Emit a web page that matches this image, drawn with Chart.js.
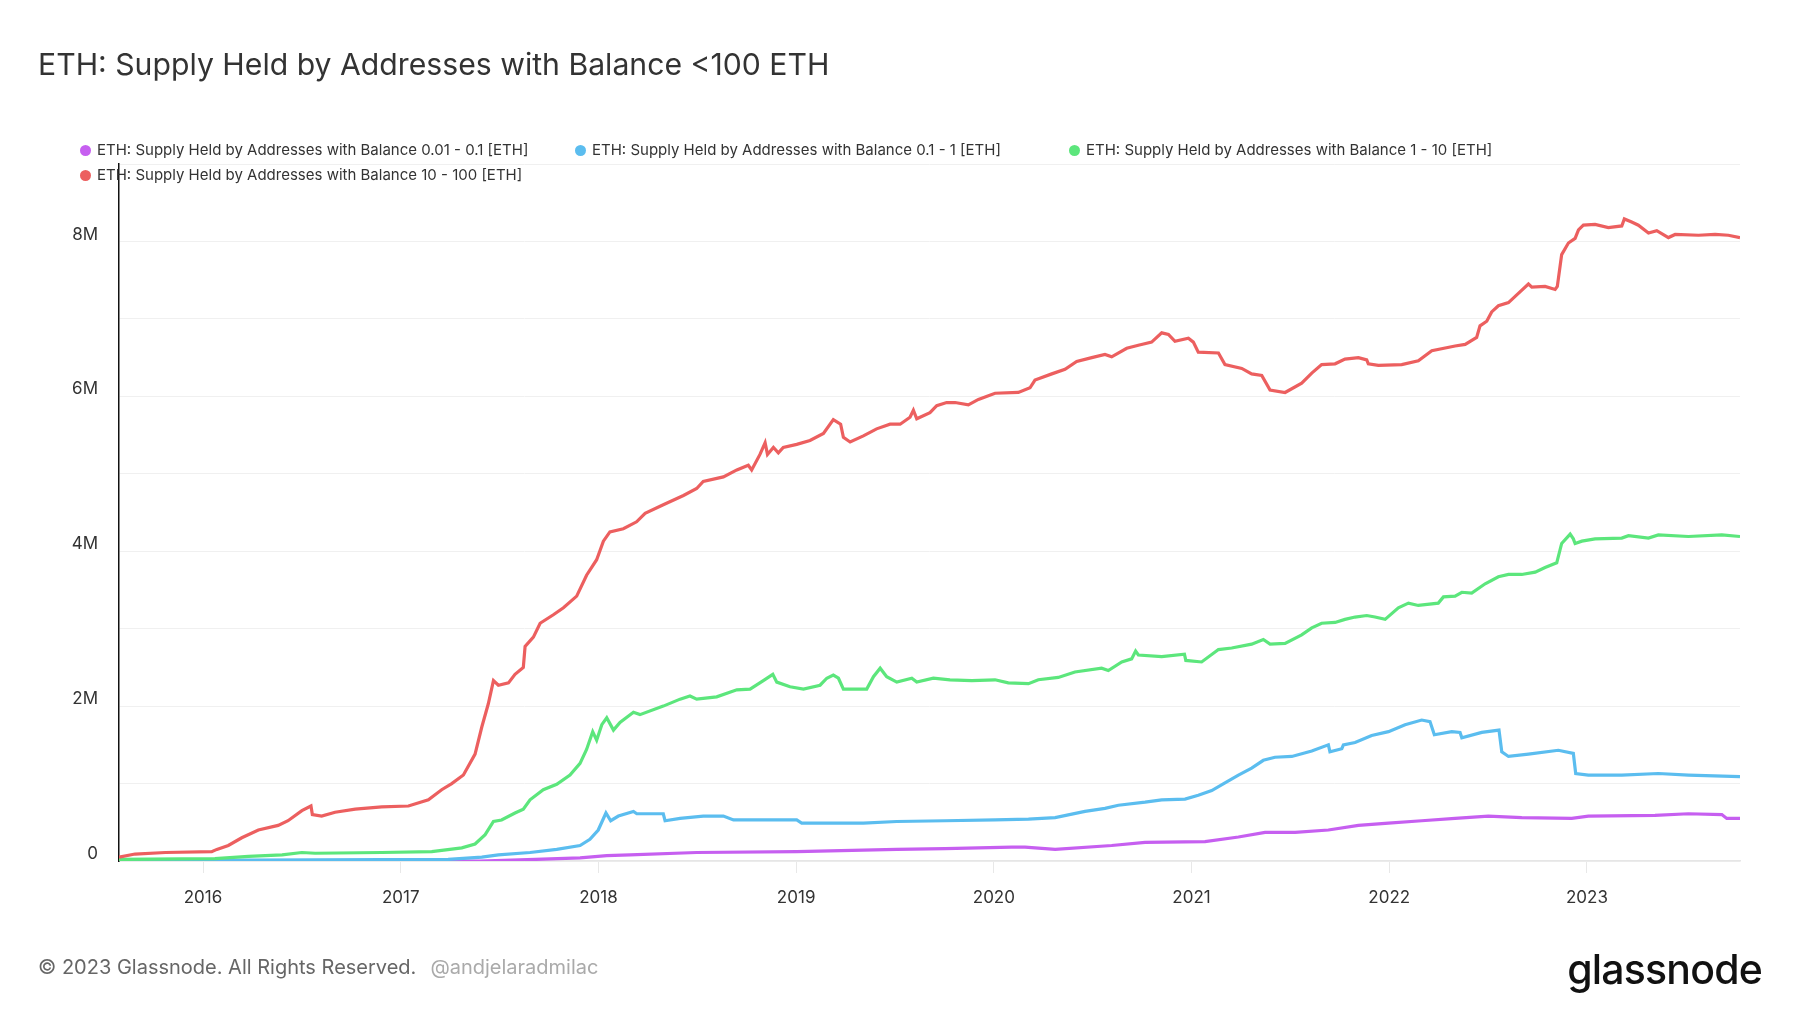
<!DOCTYPE html>
<html>
<head>
<meta charset="utf-8">
<script src="https://cdn.jsdelivr.net/npm/chart.js@4.4.0/dist/chart.umd.min.js"></script>
<style>
  body { margin: 0; background: #fff; font-family: Inter, "Noto Sans", sans-serif; }
  #wrap { position: relative; width: 1800px; height: 1013px; overflow: hidden; }
  #wrap canvas { position: absolute; left: 0; top: 0; }
  .title { position: absolute; left: 38px; top: 46px; font-size: 30.2px; color: #333; white-space: nowrap; }
  .legend-item { position: absolute; font-size: 15px; color: #333; white-space: nowrap; line-height: 18px; }
  .legend-item .dot { display: inline-block; width: 11px; height: 11px; border-radius: 50%; margin-right: 6px; vertical-align: -1px; }
  .footer { position: absolute; left: 38px; top: 955px; font-size: 20px; color: #666; white-space: nowrap; }
  .footer .handle { color: #aaa; margin-left: 14px; }
  .logo { position: absolute; right: 38px; top: 944px; font-size: 41px; font-weight: 500; color: #111; letter-spacing: -0.8px; }
</style>
</head>
<body>
<div id="wrap">
  <canvas id="chart" width="1800" height="1013"></canvas>
  <div class="title">ETH: Supply Held by Addresses with Balance &lt;100 ETH</div>
  <div id="legend"></div>
  <div class="footer">© 2023 Glassnode. All Rights Reserved.<span class="handle">@andjelaradmilac</span></div>
  <div class="logo">glassnode</div>
</div>
<script>
// values in millions of ETH, x in decimal years

const yearTicks = [2016, 2017, 2018, 2019, 2020, 2021, 2022, 2023];
const xMin = 2015.575;
const xMax = 2023.774;

const redYears = [2015.575, 2015.656, 2015.81, 2016.044, 2016.07, 2016.128, 2016.196, 2016.28, 2016.38, 2016.43, 2016.5, 2016.546, 2016.553, 2016.6, 2016.668, 2016.77, 2016.904, 2017.039, 2017.14, 2017.207, 2017.258, 2017.317, 2017.376, 2017.41, 2017.443, 2017.469, 2017.494, 2017.545, 2017.578, 2017.62, 2017.629, 2017.671,
  2017.705, 2017.772, 2017.823, 2017.89, 2017.94, 2017.991, 2018.025, 2018.058, 2018.126, 2018.193, 2018.236, 2018.328, 2018.43, 2018.497, 2018.53, 2018.632, 2018.7, 2018.758, 2018.775, 2018.817, 2018.843, 2018.855, 2018.885, 2018.91, 2018.935, 2019.003, 2019.07, 2019.138, 2019.188, 2019.225, 2019.239, 2019.273, 2019.34, 2019.407, 2019.475, 2019.526, 2019.576, 2019.593, 2019.61, 2019.677, 2019.711, 2019.761,
  2019.804, 2019.871, 2019.922, 2020.006, 2020.124, 2020.183, 2020.208, 2020.293, 2020.36, 2020.419, 2020.495, 2020.562, 2020.596, 2020.672, 2020.731, 2020.798, 2020.849, 2020.883, 2020.916, 2020.984, 2021.009, 2021.034, 2021.136, 2021.169, 2021.254, 2021.304, 2021.355, 2021.397, 2021.473, 2021.557, 2021.608, 2021.658, 2021.726, 2021.776, 2021.844,
  2021.886, 2021.894, 2021.945, 2022.063, 2022.147, 2022.215, 2022.333, 2022.384, 2022.442, 2022.459, 2022.493, 2022.518, 2022.552, 2022.603, 2022.653, 2022.704, 2022.721, 2022.788, 2022.839, 2022.85, 2022.872, 2022.906, 2022.94, 2022.957, 2022.982, 2023.041, 2023.108, 2023.176, 2023.189, 2023.226, 2023.26, 2023.311, 2023.353, 2023.412, 2023.446, 2023.564, 2023.648, 2023.715, 2023.774];
const redValues = [0.05, 0.09, 0.11, 0.12, 0.15, 0.2, 0.3, 0.4, 0.46, 0.52, 0.65, 0.71, 0.6, 0.58, 0.63, 0.67, 0.7, 0.71, 0.79, 0.92, 1.0, 1.11, 1.38, 1.73, 2.03, 2.33, 2.27, 2.3, 2.41, 2.5, 2.77, 2.89,
  3.07, 3.18, 3.27, 3.42, 3.69, 3.89, 4.13, 4.25, 4.29, 4.38, 4.49, 4.6, 4.72, 4.81, 4.9, 4.96, 5.05, 5.11, 5.05, 5.25, 5.4, 5.25, 5.34, 5.27, 5.34, 5.38, 5.43, 5.52, 5.7, 5.64, 5.47, 5.41, 5.49, 5.58, 5.64, 5.64, 5.73, 5.82, 5.71, 5.79, 5.88, 5.92,
  5.92, 5.89, 5.96, 6.04, 6.05, 6.11, 6.21, 6.29, 6.35, 6.45, 6.5, 6.54, 6.51, 6.62, 6.66, 6.7, 6.82, 6.8, 6.71, 6.75, 6.7, 6.57, 6.56, 6.41, 6.36, 6.29, 6.27, 6.08, 6.05, 6.17, 6.3, 6.41, 6.42, 6.48, 6.5,
  6.47, 6.42, 6.4, 6.41, 6.46, 6.59, 6.65, 6.67, 6.76, 6.91, 6.97, 7.09, 7.17, 7.21, 7.33, 7.45, 7.41, 7.42, 7.38, 7.42, 7.83, 7.98, 8.04, 8.15, 8.21, 8.22, 8.18, 8.2, 8.29, 8.25, 8.21, 8.11, 8.14, 8.05, 8.09, 8.08, 8.09, 8.08, 8.05];

const greenYears = [2015.575, 2016.06, 2016.23, 2016.4, 2016.5, 2016.567, 2016.904, 2017.157, 2017.309, 2017.376, 2017.427, 2017.469, 2017.51, 2017.578, 2017.62, 2017.654, 2017.721, 2017.789, 2017.856, 2017.907, 2017.94, 2017.971, 2017.991, 2018.017, 2018.042, 2018.076, 2018.109, 2018.177, 2018.21, 2018.328, 2018.413, 2018.463, 2018.497, 2018.598, 2018.7, 2018.767, 2018.834, 2018.882, 2018.902, 2018.969, 2019.037, 2019.121, 2019.155, 2019.188, 2019.214, 2019.239, 2019.357, 2019.391, 2019.425, 2019.458, 2019.509, 2019.585, 2019.61, 2019.694,
  2019.778, 2019.888, 2020.006, 2020.073, 2020.175, 2020.225, 2020.326, 2020.41, 2020.545, 2020.579, 2020.647, 2020.697, 2020.717, 2020.731, 2020.849, 2020.964, 2020.971, 2021.051, 2021.136, 2021.203, 2021.304, 2021.363, 2021.397, 2021.473, 2021.557, 2021.608, 2021.658, 2021.726, 2021.776, 2021.827,
  2021.886, 2021.928, 2021.979, 2022.046, 2022.097, 2022.147, 2022.248, 2022.274, 2022.333, 2022.367, 2022.417, 2022.485, 2022.552, 2022.603, 2022.67, 2022.738, 2022.788, 2022.847, 2022.872, 2022.915, 2022.931, 2022.94, 2022.974, 2023.041, 2023.176, 2023.21, 2023.311, 2023.361, 2023.513, 2023.682, 2023.774];
const greenValues = [0.02, 0.03, 0.06, 0.08, 0.11, 0.1, 0.11, 0.12, 0.17, 0.22, 0.34, 0.51, 0.53, 0.62, 0.67, 0.79, 0.92, 0.99, 1.11, 1.26, 1.44, 1.67, 1.56, 1.76, 1.85, 1.69, 1.79, 1.92, 1.89, 2.0, 2.09, 2.13, 2.09, 2.12, 2.21, 2.22, 2.33, 2.41, 2.31, 2.25, 2.22, 2.27, 2.36, 2.4, 2.36, 2.22, 2.22, 2.38, 2.49, 2.38, 2.31, 2.36, 2.31, 2.36,
  2.34, 2.33, 2.34, 2.3, 2.29, 2.34, 2.37, 2.44, 2.49, 2.46, 2.57, 2.61, 2.71, 2.66, 2.64, 2.67, 2.59, 2.57, 2.73, 2.75, 2.8, 2.86, 2.8, 2.81, 2.92, 3.01, 3.07, 3.08, 3.12, 3.15,
  3.17, 3.15, 3.12, 3.27, 3.33, 3.3, 3.33, 3.41, 3.42, 3.47, 3.46, 3.58, 3.67, 3.7, 3.7, 3.73, 3.79, 3.85, 4.1, 4.22, 4.16, 4.1, 4.13, 4.16, 4.17, 4.2, 4.17, 4.21, 4.19, 4.21, 4.19];

const blueYears = [2015.575, 2017.24, 2017.41, 2017.494, 2017.654, 2017.789, 2017.907, 2017.957, 2017.999, 2018.038, 2018.062, 2018.101, 2018.177, 2018.194, 2018.328, 2018.337, 2018.413, 2018.53, 2018.632, 2018.683, 2018.834, 2019.003, 2019.028, 2019.171, 2019.34, 2019.509, 2019.753,
  2020.006, 2020.175, 2020.31, 2020.461, 2020.562, 2020.63, 2020.765, 2020.849, 2020.967, 2021.034, 2021.102, 2021.169, 2021.237, 2021.304, 2021.363, 2021.422, 2021.507, 2021.608, 2021.692, 2021.7, 2021.76, 2021.768, 2021.827,
  2021.911, 2021.996, 2022.08, 2022.164, 2022.206, 2022.228, 2022.316, 2022.358, 2022.367, 2022.468, 2022.555, 2022.569, 2022.603, 2022.704, 2022.855, 2022.931, 2022.943, 2023.007, 2023.176, 2023.361, 2023.513, 2023.774];
const blueValues = [0.005, 0.02, 0.05, 0.08, 0.11, 0.15, 0.2, 0.28, 0.4, 0.62, 0.52, 0.58, 0.64, 0.61, 0.61, 0.52, 0.55, 0.58, 0.58, 0.53, 0.53, 0.53, 0.49, 0.49, 0.49, 0.51, 0.52,
  0.53, 0.54, 0.56, 0.64, 0.68, 0.72, 0.76, 0.79, 0.8, 0.85, 0.91, 1.01, 1.11, 1.2, 1.3, 1.34, 1.35, 1.42, 1.5, 1.41, 1.45, 1.5, 1.53,
  1.62, 1.67, 1.76, 1.82, 1.8, 1.63, 1.67, 1.66, 1.59, 1.66, 1.69, 1.41, 1.35, 1.38, 1.43, 1.39, 1.13, 1.11, 1.11, 1.13, 1.11, 1.09];

const purpleYears = [2015.575, 2017.4, 2017.68, 2017.907, 2018.042, 2018.16, 2018.497, 2019.003, 2019.509, 2019.753, 2020.09, 2020.158, 2020.31, 2020.596, 2020.765, 2021.068, 2021.237, 2021.372, 2021.524, 2021.692, 2021.844, 2021.996, 2022.164, 2022.333, 2022.501, 2022.67, 2022.923, 2023.007, 2023.344, 2023.513, 2023.682, 2023.707, 2023.774];
const purpleValues = [0.0, 0.0, 0.02, 0.04, 0.07, 0.08, 0.11, 0.12, 0.15, 0.16, 0.18, 0.18, 0.15, 0.2, 0.24, 0.25, 0.31, 0.37, 0.37, 0.4, 0.46, 0.49, 0.52, 0.55, 0.58, 0.56, 0.55, 0.58, 0.59, 0.61, 0.6, 0.55, 0.55];

const seriesNames = [
  'ETH: Supply Held by Addresses with Balance 0.01 - 0.1 [ETH]',
  'ETH: Supply Held by Addresses with Balance 0.1 - 1 [ETH]',
  'ETH: Supply Held by Addresses with Balance 1 - 10 [ETH]',
  'ETH: Supply Held by Addresses with Balance 10 - 100 [ETH]'
];
const seriesColors = ['#c65ff0', '#5bbdef', '#5ce67c', '#ec5f5f'];

function toPoints(xs, ys) {
  return xs.map((x, i) => ({ x: x, y: ys[i] }));
}

// html legend, laid out like the original
const legendPos = [[80, 141], [575, 141], [1069, 141], [80, 166]];
const legendBox = document.getElementById('legend');
seriesNames.forEach((name, i) => {
  const div = document.createElement('div');
  div.className = 'legend-item';
  div.style.left = legendPos[i][0] + 'px';
  div.style.top = legendPos[i][1] + 'px';
  div.innerHTML = `<span class="dot" style="background:${seriesColors[i]}"></span>${name}`;
  legendBox.appendChild(div);
});

const allData = [
  toPoints(purpleYears, purpleValues),
  toPoints(blueYears, blueValues),
  toPoints(greenYears, greenValues),
  toPoints(redYears, redValues)
];

const ctx = document.getElementById('chart').getContext('2d');
new Chart(ctx, {
  type: 'line',
  data: {
    datasets: seriesNames.map((name, i) => ({
      label: name,
      data: allData[i],
      borderColor: seriesColors[i],
      backgroundColor: seriesColors[i],
      borderWidth: 3.2,
      pointRadius: 0,
      tension: 0,
      fill: false
    })).reverse()
  },
  options: {
    responsive: false,
    animation: false,
    layout: { padding: { left: 0, top: 164, right: 60, bottom: 0 } },
    plugins: {
      legend: { display: false },
      title: { display: false },
      tooltip: { enabled: false }
    },
    scales: {
      x: {
        type: 'linear',
        min: xMin,
        max: xMax,
        afterBuildTicks: (axis) => { axis.ticks = yearTicks.map(v => ({ value: v })); },
        afterFit: (axis) => { axis.height = 152; },
        grid: { drawOnChartArea: false, drawTicks: true, tickLength: 12, color: '#e8e8e8' },
        border: { display: true, color: '#e6e6e6', width: 1.5 },
        ticks: {
          padding: 15,
          color: '#333',
          font: { family: 'Inter', size: 17 },
          maxRotation: 0,
          callback: (v) => String(v)
        }
      },
      y: {
        min: 0,
        max: 9,
        afterFit: (axis) => { axis.width = 119; },
        grid: { color: '#f0f0f0', drawTicks: false },
        border: { display: true, color: '#111', width: 1.5 },
        ticks: {
          stepSize: 1,
          padding: 21,
          labelOffset: -7,
          color: '#333',
          font: { family: 'Inter', size: 17 },
          callback: (v) => (v % 2 === 0 && v < 9) ? (v === 0 ? '0' : v + 'M') : ''
        }
      }
    }
  }
});
</script>
</body>
</html>
